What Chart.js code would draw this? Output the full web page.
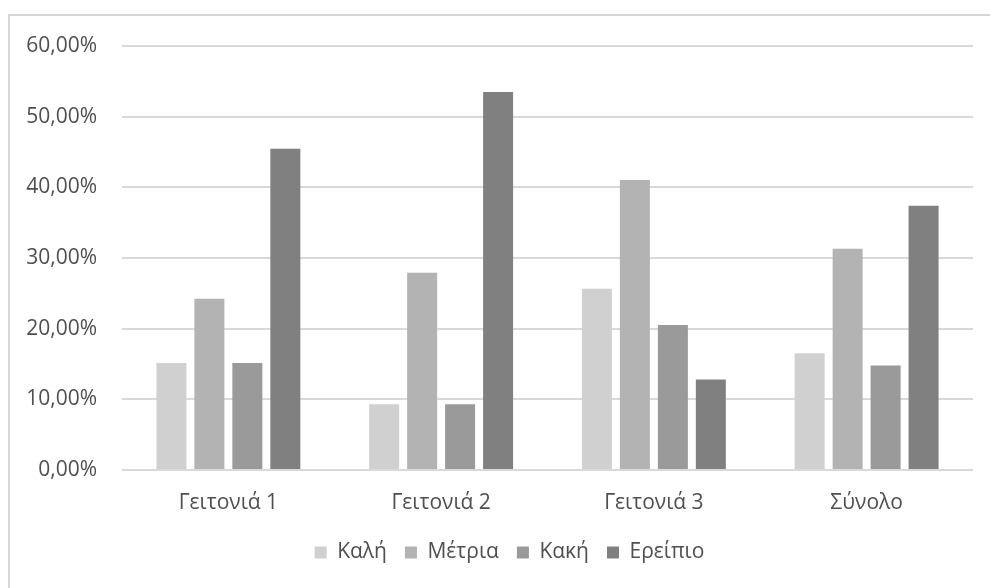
<!DOCTYPE html>
<html>
<head>
<meta charset="utf-8">
<script src="https://cdn.jsdelivr.net/npm/chart.js@4"></script>
<style>
  html, body { margin: 0; padding: 0; background: #ffffff; }
  #wrap { position: relative; width: 990px; height: 588px; overflow: hidden; }
  #frame { position: absolute; left: 8px; top: 14px; width: 1000px; height: 600px;
           border-top: 2px solid #d6d6d6; border-left: 2px solid #d6d6d6; box-sizing: border-box; }
  #c { position: absolute; left: 0; top: 0; }
</style>
</head>
<body>
<div id="wrap">
  <div id="frame"></div>
  <canvas id="c" width="990" height="588"></canvas>
</div>
<script>
const categories = ['Γειτονιά 1', 'Γειτονιά 2', 'Γειτονιά 3', 'Σύνολο'];
const seriesNames = ['Καλή', 'Μέτρια', 'Κακή', 'Ερείπιο'];
const kali    = [15.15, 9.30, 25.64, 16.52];
const metria  = [24.24, 27.91, 41.03, 31.30];
const kaki    = [15.15, 9.30, 20.51, 14.78];
const ereipio = [45.45, 53.49, 12.82, 37.39];
const yTicks = [0, 10, 20, 30, 40, 50, 60];

const colors = ['#d0d0d0', '#b3b3b3', '#9a9a9a', '#808080'];
const values = [kali, metria, kaki, ereipio];
const FONT = "'Open Sans', 'DejaVu Sans', sans-serif";
const TEXT = '#4f4f4f';

const legendShift = {
  id: 'legendShift',
  afterLayout(chart) {
    if (chart.legend) {
      chart.legend.left += 18;
      chart.legend.right += 18;
    }
  }
};

new Chart(document.getElementById('c'), {
  type: 'bar',
  data: {
    labels: categories,
    datasets: seriesNames.map((n, i) => ({
      label: n,
      data: values[i],
      backgroundColor: colors[i],
      borderWidth: 0,
      categoryPercentage: 0.714,
      barPercentage: 0.79
    }))
  },
  plugins: [legendShift],
  options: {
    responsive: false,
    animation: false,
    layout: { padding: { top: 46, left: 10, right: 17, bottom: 15 } },
    plugins: {
      tooltip: { enabled: false },
      legend: {
        position: 'bottom',
        labels: {
          color: TEXT,
          font: { family: FONT, size: 21 },
          boxWidth: 12,
          boxHeight: 12,
          padding: 18
        }
      }
    },
    scales: {
      x: {
        grid: { display: false, drawTicks: false },
        border: { display: false },
        ticks: { color: TEXT, font: { family: FONT, size: 21 }, padding: 20 },
        afterFit: s => { s.height = 54; }
      },
      y: {
        min: yTicks[0],
        max: yTicks[yTicks.length - 1],
        afterBuildTicks: s => { s.ticks = yTicks.map(v => ({ value: v })); },
        grid: { color: '#d9d9d9', lineWidth: 2, drawTicks: false },
        border: { display: false },
        ticks: {
          color: TEXT,
          font: { family: FONT, size: 21 },
          padding: 25,
          callback: v => v.toFixed(2).replace('.', ',') + '%'
        },
        afterFit: s => { s.width = 112; }
      }
    }
  }
});
</script>
</body>
</html>
